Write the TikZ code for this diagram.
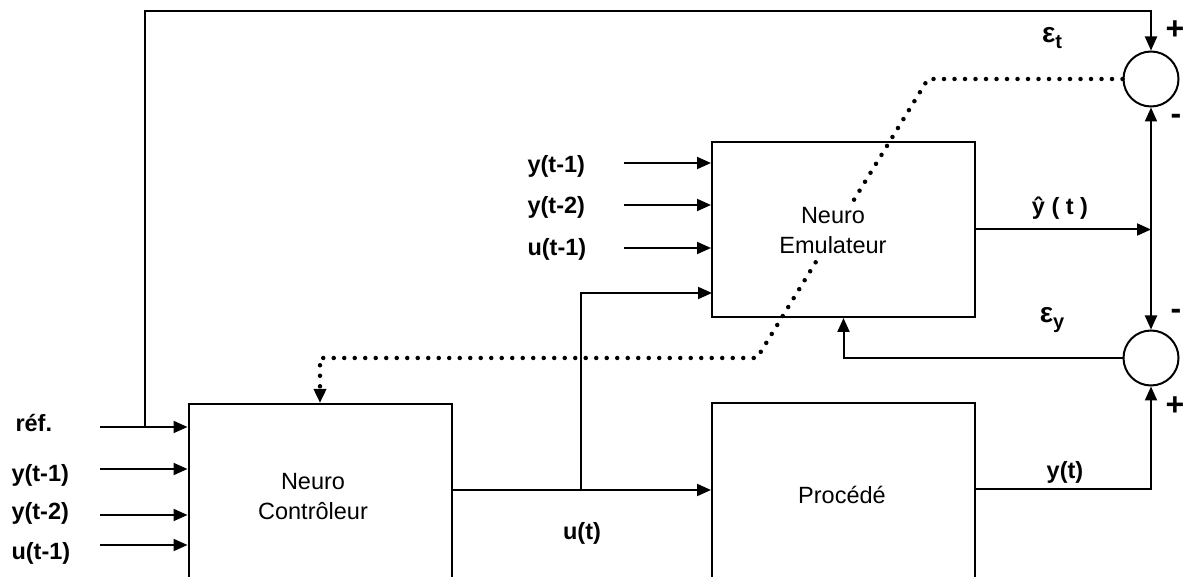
\documentclass[tikz,border=0pt]{standalone}
\usepackage{fontspec}
\setmainfont{Liberation Sans}
\usetikzlibrary{arrows.meta}
\begin{document}
\begin{tikzpicture}[x=1pt,y=-1pt,
  every node/.style={font=\fontsize{23.5}{30}\selectfont},
  blk/.style={draw,line width=2pt,minimum width=263pt,inner sep=0pt},
  sum/.style={draw,circle,line width=2pt,minimum size=55pt,inner sep=0pt},
  arr/.style={line width=2pt,-{Triangle[length=14pt,width=12pt]}},
  lbl/.style={font=\fontsize{23.5}{27}\selectfont\bfseries},
  sgn/.style={font=\fontsize{32}{32}\selectfont\bfseries},
  eps/.style={font=\fontsize{28}{28}\selectfont\bfseries},
  dots/.style={line width=4.5pt,line cap=round,dash pattern=on 0pt off 10.5pt}
]
\clip (0,0) rectangle (1184,577);
% blocks
\node[blk,minimum height=200pt] (ctrl) at (320,504) {};
\node[blk,minimum height=200pt] (proc) at (843.5,503) {};
\node[blk,minimum height=175pt] (emu) at (843.5,229.5) {};
\node[sum] (sumT) at (1151,79) {};
\node[sum] (sumY) at (1151,358) {};
% coordinates
\coordinate (rin) at (100,427);
\coordinate (y1in) at (100,469);
\coordinate (y2in) at (100,515);
\coordinate (u1in) at (100,545);
\coordinate (rbr) at (145,427);
\coordinate (tl) at (145,11);
\coordinate (ey1) at (624,163);
\coordinate (ey2) at (624,205);
\coordinate (eu1) at (624,248);
\coordinate (ub) at (581,490);
\coordinate (ue) at (712,293);
\coordinate (yh) at (1151,229.5);
\coordinate (yo) at (975,489);
\coordinate (d1) at (928,79);
\coordinate (d2) at (757,358);
% controller inputs
\draw[arr] (rin) -- (rin -| ctrl.west);
\draw[arr] (y1in) -- (y1in -| ctrl.west);
\draw[arr] (y2in) -- (y2in -| ctrl.west);
\draw[arr] (u1in) -- (u1in -| ctrl.west);
\draw[arr] (rbr) -- (tl) -| (sumT.north);
% emulator inputs
\draw[arr] (ey1) -- (ey1 -| emu.west);
\draw[arr] (ey2) -- (ey2 -| emu.west);
\draw[arr] (eu1) -- (eu1 -| emu.west);
% u(t)
\draw[arr] (ctrl.east |- ub) -- (proc.west |- ub);
\draw[arr] (ub) |- (ue);
% outputs
\draw[arr] (emu.east) -- (yh);
\draw[arr] (yh) -- (sumT.south);
\draw[arr] (yh) -- (sumY.north);
\draw[arr] (yo) -| (sumY.south);
\draw[arr] (sumY.west) -| (emu.south);
% dotted error path
\draw[arr,dots] (sumT.west) -- (d1) -- (d2) -| (ctrl.north);
% texts
\node[align=center] (ctxt) at (313,497) {Neuro\\Contrôleur};
\node[align=center,fill=white,inner sep=3pt] (etxt) at (833,231) {Neuro\\Emulateur};
\node (ptxt) at (842,495) {Procédé};
\node[lbl,anchor=west] (lr) at (12,423) {réf.};
\node[lbl,anchor=west] (ly1) at (8,475) {y(t-1)};
\node[lbl,anchor=west] (ly2) at (8,513) {y(t-2)};
\node[lbl,anchor=west] (lu1) at (8,553) {u(t-1)};
\node[lbl,anchor=west] (ley1) at (524,166) {y(t-1)};
\node[lbl,anchor=west] (ley2) at (524,207) {y(t-2)};
\node[lbl,anchor=west] (leu1) at (524,249) {u(t-1)};
\node[lbl] (lut) at (582,533) {u(t)};
\node[lbl] (lyt) at (1065,472) {y(t)};
\node[lbl] (lyh) at (1060,208) {ŷ ( t )};
\node[eps] (let) at (1052,38) {ε\raisebox{-6pt}{\fontsize{20}{20}\selectfont t}};
\node[eps] (ley) at (1052,320) {ε\raisebox{-6pt}{\fontsize{20}{20}\selectfont y}};
\node[sgn] (pT) at (1175,30) {+};
\node[sgn] (mT) at (1176,119) {-};
\node[sgn] (mY) at (1176,314) {-};
\node[sgn] (pY) at (1175,406) {+};
\end{tikzpicture}
\end{document}
